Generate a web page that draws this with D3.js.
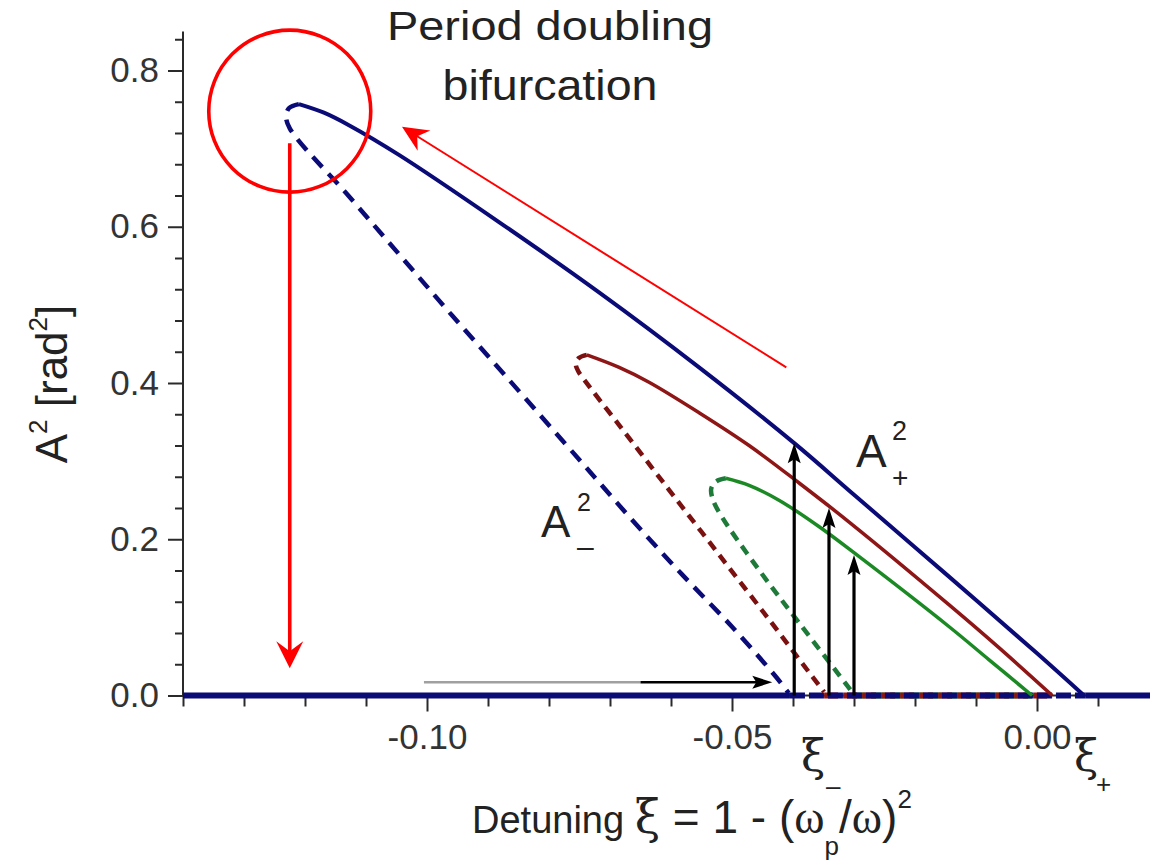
<!DOCTYPE html>
<html><head><meta charset="utf-8">
<script src="https://cdn.jsdelivr.net/npm/d3@7/dist/d3.min.js"></script>
<style>body{margin:0;background:#fff}svg{display:block}</style>
</head><body>
<svg id="chart" width="1150" height="865"></svg>
<script>
// ---------------- data ----------------
const xMajorTicks = [-0.10, -0.05, 0.00];
const xTickLabels = ["-0.10", "-0.05", "0.00"];
const xMinorTicks = [-0.14, -0.13, -0.12, -0.11, -0.09, -0.08, -0.07, -0.06, -0.04, -0.03, -0.02, -0.01, 0.01];
const yMajorTicks = [0.0, 0.2, 0.4, 0.6, 0.8];
const yTickLabels = ["0.0", "0.2", "0.4", "0.6", "0.8"];
const yMinorTicks = [0.04, 0.08, 0.12, 0.16, 0.24, 0.28, 0.32, 0.36, 0.44, 0.48, 0.52, 0.56, 0.64, 0.68, 0.72, 0.76, 0.84];

// stable upper branches A+^2 (xi, A^2)
const blueUpper = [[-0.1210,0.757],[-0.1169,0.746],[-0.1128,0.730],[-0.1046,0.692],[-0.0882,0.606],[-0.0718,0.516],[-0.0554,0.420],[-0.0398,0.323],[-0.0300,0.257],[-0.0150,0.156],[0.0000,0.054],[0.0077,0.000]];
const redUpper = [[-0.0738,0.436],[-0.0685,0.420],[-0.0636,0.401],[-0.0554,0.362],[-0.0472,0.320],[-0.0390,0.272],[-0.0308,0.222],[-0.0144,0.116],[-0.0062,0.061],[0.0025,0.000]];
const greenUpper = [[-0.0510,0.278],[-0.0472,0.269],[-0.0423,0.250],[-0.0357,0.216],[-0.0292,0.178],[-0.0144,0.088],[-0.0079,0.046],[-0.0008,0.000]];
// unstable lower branches A-^2
const blueLower = [[-0.1210,0.757],[-0.1226,0.752],[-0.1231,0.742],[-0.1225,0.726],[-0.1128,0.639],[-0.1046,0.565],[-0.0964,0.491],[-0.0870,0.408],[-0.0746,0.298],[-0.0664,0.225],[-0.0582,0.155],[-0.0500,0.088],[-0.0428,0.024],[-0.0407,0.003]];
const redLower = [[-0.0738,0.436],[-0.0751,0.432],[-0.0756,0.424],[-0.0752,0.415],[-0.0746,0.408],[-0.0685,0.346],[-0.0603,0.263],[-0.0521,0.180],[-0.0439,0.097],[-0.0374,0.030],[-0.0349,0.0045]];
const greenLower = [[-0.0510,0.278],[-0.0526,0.274],[-0.0534,0.265],[-0.0531,0.250],[-0.0516,0.228],[-0.0456,0.161],[-0.0390,0.093],[-0.0303,0.0045]];

// zero-amplitude branch: stable outside [xi-, xi+], unstable inside
const xDomain = [-0.14, 0.019];
const xiMinus = [-0.0405, -0.0349, -0.0303];   // blue, red, green
const xiPlus  = [0.0080, 0.0025, -0.0008];
// jump-up arrows
const jumpXi  = [-0.0398, -0.0341, -0.0300];
const jumpTop = [0.323, 0.240, 0.180];
// frequency sweep arrow (grey part then black part)
const sweepXi = [-0.1005, -0.0650, -0.0434];
const sweepLevel = [0.017];
// period doubling annotations
const pdPoint = [-0.1225, 0.748];
const dropArrow = [[-0.1225, 0.707], [-0.1225, 0.035]];
const returnArrow = [[-0.0411, 0.420], [-0.1041, 0.728]];

// ---------------- drawing ----------------
const svg = d3.select("#chart");
const x = d3.scaleLinear().domain(xDomain).range([183, 183 + 0.159 * 6100]);
const y = d3.scaleLinear().domain([0, 0.85]).range([695.5, 695.5 - 0.85 * 781.25]);

const navy = "#0b0b78", dred = "#8e1616", dred2 = "#7a1010", green = "#1c8a24", green2 = "#1e7a38";
const axisCol = "#2a2a2a", txtCol = "#222";
const sans = "'Liberation Sans', Arial, sans-serif", serif = "'Liberation Serif', 'DejaVu Serif', serif";
const greek = "'DejaVu Serif', 'Liberation Serif', serif";

// axes
const gy = svg.append("g").attr("transform", "translate(183,0)")
  .call(d3.axisLeft(y).tickValues(yMajorTicks).tickFormat((d, i) => yTickLabels[i]).tickSize(15).tickSizeOuter(0).tickPadding(9));
gy.append("g").call(d3.axisLeft(y).tickValues(yMinorTicks).tickFormat("").tickSize(8)).select(".domain").remove();
gy.select(".domain").attr("d", `M0,${y(0)}V31.5`);
const gx = svg.append("g").attr("transform", `translate(0,${y(0)})`)
  .call(d3.axisBottom(x).tickValues(xMajorTicks).tickFormat((d, i) => xTickLabels[i]).tickSize(16).tickSizeOuter(0).tickPadding(13));
gx.append("g").call(d3.axisBottom(x).tickValues(xMinorTicks).tickFormat("").tickSize(11)).select(".domain").remove();
gx.select(".domain").attr("d", `M183,0H1150`);
svg.selectAll(".domain, .tick line").attr("stroke", axisCol).attr("stroke-width", 2);
svg.selectAll(".tick text").attr("font-family", sans).attr("font-size", 35).attr("fill", "#333");

const lineLoop = d3.line().x(d => x(d[0])).y(d => y(d[1])).curve(d3.curveCatmullRom.alpha(0.5));
const lineUp = d3.line().x(d => x(d[0])).y(d => y(d[1])).curve(d3.curveMonotoneX);
const lines = svg.append("g").attr("fill", "none");

// zero branch
const zcols = [navy, dred, green];
[2, 1].forEach(i => {
  lines.append("path").attr("d", lineUp([[xiMinus[i], 0], [xiPlus[i], 0]]))
    .attr("stroke", zcols[i]).attr("stroke-width", 6).attr("stroke-dasharray", "14,5");
});
lines.append("path").attr("d", lineUp([[xDomain[0], 0], [xiMinus[0], 0]])).attr("stroke", navy).attr("stroke-width", 6);
lines.append("path").attr("d", lineUp([[xiPlus[0], 0], [xDomain[1], 0]])).attr("stroke", navy).attr("stroke-width", 6);
lines.append("path").attr("d", lineUp([[xiMinus[0], 0], [xiPlus[0], 0]])).attr("stroke", navy).attr("stroke-width", 6).attr("stroke-dasharray", "15,4");

// branches
lines.append("path").attr("d", lineLoop(blueLower)).attr("stroke", navy).attr("stroke-width", 4.5).attr("stroke-dasharray", "14,9");
lines.append("path").attr("d", lineLoop(redLower)).attr("stroke", dred2).attr("stroke-width", 4.5).attr("stroke-dasharray", "10,7");
lines.append("path").attr("d", lineLoop(greenLower)).attr("stroke", green2).attr("stroke-width", 4.5).attr("stroke-dasharray", "10,7");
lines.append("path").attr("d", lineLoop(blueUpper)).attr("stroke", navy).attr("stroke-width", 4);
lines.append("path").attr("d", lineLoop(redUpper)).attr("stroke", dred).attr("stroke-width", 3.5);
lines.append("path").attr("d", lineLoop(greenUpper)).attr("stroke", green).attr("stroke-width", 3.5);

// arrow helper (pixel coordinates from scales)
function arrow(g, p1, p2, color, w, len, half, notch) {
  const dx = p2[0] - p1[0], dy = p2[1] - p1[1], L = Math.hypot(dx, dy);
  const ux = dx / L, uy = dy / L, px = -uy, py = ux;
  const bx = p2[0] - ux * len, by = p2[1] - uy * len;
  const nx = p2[0] - ux * (len - notch), ny = p2[1] - uy * (len - notch);
  g.append("line").attr("x1", p1[0]).attr("y1", p1[1]).attr("x2", nx + ux).attr("y2", ny + uy)
    .attr("stroke", color).attr("stroke-width", w);
  g.append("path").attr("d", `M${p2[0]},${p2[1]}L${bx + px * half},${by + py * half}L${nx},${ny}L${bx - px * half},${by - py * half}Z`)
    .attr("fill", color);
}
const ann = svg.append("g");
jumpXi.forEach((xi, i) => arrow(ann, [x(xi), y(0)], [x(xi), y(jumpTop[i])], "#000", 3.2, 20, 6.5, 4));
ann.append("line").attr("x1", x(sweepXi[0])).attr("x2", x(sweepXi[1])).attr("y1", y(sweepLevel[0])).attr("y2", y(sweepLevel[0]))
  .attr("stroke", "#a0a0a0").attr("stroke-width", 2.4);
arrow(ann, [x(sweepXi[1]), y(sweepLevel[0])], [x(sweepXi[2]), y(sweepLevel[0])], "#000", 2.4, 20, 6.5, 4);

// red annotations
ann.append("circle").attr("cx", x(pdPoint[0])).attr("cy", y(pdPoint[1])).attr("r", 81)
  .attr("fill", "none").attr("stroke", "#ff0000").attr("stroke-width", 3.6);
arrow(ann, [x(dropArrow[0][0]), y(dropArrow[0][1])], [x(dropArrow[1][0]), y(dropArrow[1][1])], "#ff0000", 3.6, 27, 13.5, 10);
arrow(ann, [x(returnArrow[0][0]), y(returnArrow[0][1])], [x(returnArrow[1][0]), y(returnArrow[1][1])], "#ff0000", 2, 26, 12, 8);

// texts
const t = svg.append("g").attr("fill", txtCol).attr("font-family", sans);
t.append("text").attr("x", 550).attr("y", 40).attr("text-anchor", "middle").attr("font-size", 40)
  .attr("textLength", 326).attr("lengthAdjust", "spacingAndGlyphs").text("Period doubling");
t.append("text").attr("x", 550).attr("y", 100).attr("text-anchor", "middle").attr("font-size", 42)
  .attr("textLength", 215).attr("lengthAdjust", "spacingAndGlyphs").text("bifurcation");

// A+^2 and A-^2
t.append("text").attr("x", 856).attr("y", 467).attr("font-size", 46).text("A");
t.append("text").attr("x", 892).attr("y", 440).attr("font-size", 27).text("2");
t.append("text").attr("x", 892).attr("y", 487).attr("font-size", 28).text("+");
t.append("text").attr("x", 541).attr("y", 537).attr("font-size", 44).text("A");
t.append("text").attr("x", 577).attr("y", 511).attr("font-size", 25).text("2");
t.append("text").attr("x", 577).attr("y", 557).attr("font-size", 30).text("\u2013");

// xi- and xi+ below axis
t.append("text").attr("x", 801).attr("y", 771).attr("font-family", greek).attr("font-size", 44).text("\u03be");
t.append("text").attr("x", 826).attr("y", 795).attr("font-size", 26).text("\u2013");
t.append("text").attr("x", 1074).attr("y", 771).attr("font-family", greek).attr("font-size", 44).text("\u03be");
t.append("text").attr("x", 1096).attr("y", 793).attr("font-size", 26).text("+");

// x label
const xl = t.append("text").attr("x", 472).attr("y", 833).attr("font-size", 38);
xl.append("tspan").text("Detuning ");
xl.append("tspan").attr("font-family", greek).attr("font-size", 46).text("\u03be");
xl.append("tspan").attr("font-size", 46).text(" = 1 - (");
xl.append("tspan").attr("font-family", serif).attr("font-size", 46).text("\u03c9");
xl.append("tspan").attr("font-size", 26).attr("dy", 22).text("p");
xl.append("tspan").attr("font-size", 46).attr("dy", -22).text("/");
xl.append("tspan").attr("font-family", serif).attr("font-size", 46).text("\u03c9");
xl.append("tspan").attr("font-size", 46).text(")");
xl.append("tspan").attr("font-size", 26).attr("dy", -25).text("2");

// y label
const yl = t.append("text").attr("transform", "translate(67,384) rotate(-90)").attr("text-anchor", "middle").attr("font-size", 44);
yl.append("tspan").text("A");
yl.append("tspan").attr("font-size", 26).attr("dy", -20).text("2");
yl.append("tspan").attr("dy", 20).text(" [rad");
yl.append("tspan").attr("font-size", 26).attr("dy", -20).text("2");
yl.append("tspan").attr("dy", 20).text("]");
</script>
</body></html>
